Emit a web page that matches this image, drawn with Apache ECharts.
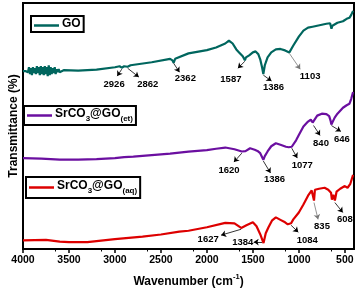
<!DOCTYPE html>
<html><head><meta charset="utf-8">
<script src="https://cdn.jsdelivr.net/npm/echarts@6/dist/echarts.min.js"></script>
<style>html,body{margin:0;padding:0;background:#fff}#c{width:359px;height:293px}</style>
</head><body><div id="c"></div>
<script>
// Wavenumbers (cm-1) and offset transmittance values (arbitrary units, stacked traces)
const goWave = [4000,3968,3957,3946,3935,3925,3914,3903,3892,3882,3871,3860,3849,3838,3828,3817,3806,3795,3785,3774,3763,3752,3742,3731,3720,3709,3699,3688,3677,3666,3655,3645,3634,3623,3612,3602,3591,3580,3558,3537,3400,3200,3000,2950,2926,2900,2862,2830,2600,2400,2375,2362,2345,2200,2000,1900,1800,1760,1720,1680,1650,1630,1610,1600,1587,1575,1560,1540,1520,1500,1470,1440,1420,1400,1386,1370,1340,1300,1250,1200,1150,1103,1060,1000,950,900,850,800,750,700,660,645,635,620,580,520,480,450,430,410];
const goVal  = [180,180,182,179,184,177,183,176,184,178,183,177,185,178,184,176,185,177,184,176,185,177,184,175,186,176,184,177,183,178,184,177,182,179,182,179,181,180,181,180,180.5,181.5,184,185,183.5,185,184.5,186,189,192.5,191,188.5,192.5,198,201.3,204,208,211,208,202,199,197,195,193,191,194,192,196,195,199,200,197,192,184,177,186,194,199,202,202.5,201,199,206,215,221,224,225,226,227,228,228.5,223,226,227,229,230.5,233,234,237,241];

const etWave = [4000,3800,3600,3400,3200,3000,2900,2800,2600,2400,2200,2000,1900,1800,1700,1620,1580,1530,1480,1450,1420,1400,1386,1370,1340,1300,1250,1200,1170,1140,1110,1077,1030,1000,950,900,870,850,840,830,800,750,700,670,655,646,630,610,580,520,480,450,430,410];
const etVal  = [92,91.5,90.5,90.5,91,92,93,93.5,95,96.5,98.5,100,101.5,102.7,101,98.7,99,102,100.5,99.3,97,95,90.3,94,98.7,104,107,105.5,104.5,103.5,103,103.5,110,115.3,124,129,131,128,126,130,135,137,136.5,134.5,130,126,127,133,137,143,145.5,147,152,159];

const aqWave = [4000,3750,3600,3500,3300,3000,2700,2500,2300,2200,2000,1800,1700,1627,1570,1500,1460,1420,1384,1360,1330,1290,1250,1200,1150,1120,1084,1060,1000,950,900,860,845,835,825,780,720,680,650,640,625,608,590,550,500,470,440,410];
const aqVal  = [8.7,9.3,7.5,7,7,10,12.5,14.7,17.5,18.5,22,26.5,26,21.3,24,27,23,15,6,16,22,29,32,29.5,27,25,26,30,37,45,54,59.3,59.5,49,60,61,62,60,57,50,55,49,58,61,63.7,62,66,75];

const xTicks = [4000,3500,3000,2500,2000,1500,1000,500];

// Peak annotations: [label, textWave, textVal, fromWave, fromVal, toWave, toVal, arrowColor]
const goNotes = [
  ['2926',3009,167,2926,182,2975,175,'#000'],
  ['2862',2643,167,2862,183,2740,174,'#000'],
  ['2362',2234,173,2362,188,2298,179,'#000'],
  ['1587',1739,172,1587,190,1663,183,'#000'],
  ['1386',1275,164,1386,176,1297,170,'#000'],
  ['1103',877,175,1103,198,985,182,'#777']
];
const etNotes = [
  ['840',759,107,840,125,769,115,'#000'],
  ['646',532,111,646,125,543,119,'#000'],
  ['1620',1760,80,1620,97,1706,88,'#000'],
  ['1386',1265,70,1386,89,1308,77,'#000'],
  ['1077',963,85,1077,102,1017,92,'#000']
];
const aqNotes = [
  ['1627',1986,10,1627,20,1846,14,'#000'],
  ['1384',1609,7,1400,7,1491,7,'#000'],
  ['1084',909,9,1084,24,1006,17,'#000'],
  ['835',748,23,835,47,791,30,'#777'],
  ['608',500,30,608,47,522,37,'#000']
];

const colors = {go:'#00665E', et:'#6B0FA0', aq:'#DD0000'};
const FF = 'Liberation Sans, Arial, sans-serif';

function zip(w,v){ return w.map((x,i)=>[x,v[i]]); }
function marks(notes){
  return {
    markPoint: {
      symbol:'circle', symbolSize:0, silent:true,
      label:{show:true, position:'inside', color:'#000', fontFamily:FF, fontWeight:'bold', fontSize:9.5, formatter:p=>p.name},
      data: notes.map(n=>({name:n[0], coord:[n[1],n[2]]}))
    },
    markLine: {
      silent:true, symbol:['none','arrow'], symbolSize:5, label:{show:false},
      data: notes.map(n=>[{coord:[n[3],n[4]], lineStyle:{color:n[7],width:0.8,type:'solid'}, itemStyle:{color:n[7]}},{coord:[n[5],n[6]]}])
    }
  };
}

const rich = {
  a:{fontFamily:FF, fontWeight:'bold', fontSize:12, color:'#000', padding:[0,0,3,0]},
  s:{fontFamily:FF, fontWeight:'bold', fontSize:8, color:'#000', verticalAlign:'bottom'}
};
function legendFmt(name){
  if(name==='GO') return '{a|GO}';
  const sub = name.indexOf('(et)')>=0 ? '(et)' : '(aq)';
  return '{a|SrCO}{s|3}{a|@GO}{s|'+sub+'}';
}
function legend(name,left,top,pad){
  return {data:[{name:name, icon:'rect'}], left:left, top:top, orient:'horizontal', borderColor:'#000', borderWidth:2, borderRadius:0,
    padding:pad, itemWidth:25, itemHeight:2.5, itemGap:0, selectedMode:false,
    formatter:legendFmt, textStyle:{rich:rich, padding:[0,0,0,-2]}};
}

const chart = echarts.init(document.getElementById('c'));
chart.setOption({
  animation:false,
  grid:{left:20, right:5, top:3, bottom:41, show:true, borderColor:'#000', borderWidth:2},
  legend:[legend('GO',31,16,[2,3,2,3]), legend('SrCO3@GO(et)',24,106,[2,3,2,3]), legend('SrCO3@GO(aq)',26,177,[3,3,3,3])],
  xAxis:{type:'value', min:400, max:4000, inverse:true, interval:500,
    axisLine:{show:true, lineStyle:{color:'#000', width:2}},
    axisTick:{show:true, length:4, lineStyle:{color:'#000', width:1.5}, customValues:xTicks},
    minorTick:{show:true, splitNumber:2, length:2.5, lineStyle:{color:'#000', width:1}},
    axisLabel:{color:'#000', fontFamily:FF, fontWeight:'bold', fontSize:10.5, margin:6, customValues:xTicks, formatter:v=>String(v)},
    splitLine:{show:false},
    name:'{t|Wavenumber (cm}{p|-1}{t|)}', nameLocation:'middle', nameGap:24,
    nameTextStyle:{rich:{t:{fontFamily:FF, fontWeight:'bold', fontSize:12, color:'#000', padding:[3,0,0,0]}, p:{fontFamily:FF, fontWeight:'bold', fontSize:7.5, color:'#000', verticalAlign:'top'}}}
  },
  yAxis:{type:'value', min:0, max:249,
    axisLine:{show:true, lineStyle:{color:'#000', width:2}},
    axisTick:{show:false}, axisLabel:{show:false}, splitLine:{show:false},
    name:'Transmittance (%)', nameLocation:'middle', nameGap:3,
    nameTextStyle:{fontFamily:FF, fontWeight:'bold', fontSize:12, color:'#000'}
  },
  series:[
    Object.assign({name:'GO', type:'line', data:zip(goWave,goVal), symbol:'none', lineStyle:{color:colors.go, width:2.2}, itemStyle:{color:colors.go}}, marks(goNotes)),
    Object.assign({name:'SrCO3@GO(et)', type:'line', data:zip(etWave,etVal), symbol:'none', lineStyle:{color:colors.et, width:2.2}, itemStyle:{color:colors.et}}, marks(etNotes)),
    Object.assign({name:'SrCO3@GO(aq)', type:'line', data:zip(aqWave,aqVal), symbol:'none', lineStyle:{color:colors.aq, width:2.2}, itemStyle:{color:colors.aq}}, marks(aqNotes))
  ]
});
</script></body></html>
